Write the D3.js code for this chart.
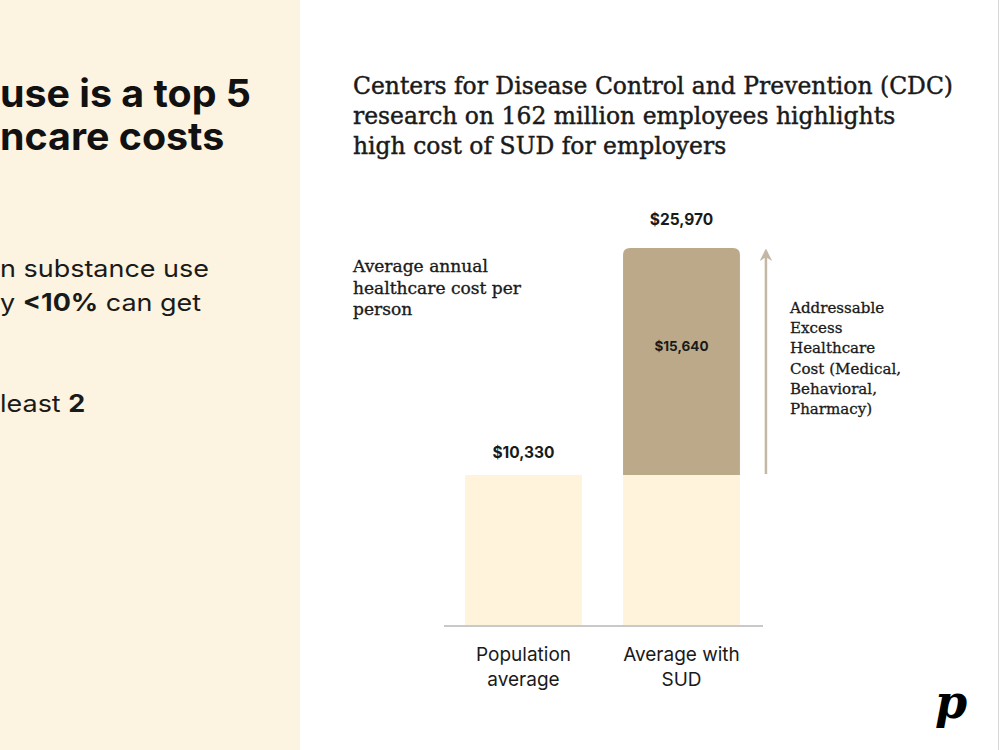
<!DOCTYPE html>
<html>
<head>
<meta charset="utf-8">
<script src="https://cdn.jsdelivr.net/npm/d3@7"></script>
<style>
  html, body { margin: 0; padding: 0; background: #fff; }
  svg { display: block; }
</style>
</head>
<body>
<div id="chart"></div>
<script>
const W = 1000
const H = 750

// chart data
const categories = ['Population average', 'Average with SUD']
const categoryLines = [['Population', 'average'], ['Average with', 'SUD']]
const baseCost = [10330, 10330]
const excessCost = [0, 15640]
const totalLabels = ['$10,330', '$25,970']
const excessLabel = '$15,640'

// texts
const titleLines = ['use is a top 5', 'ncare costs']
const subtitleLines = [
  'Centers for Disease Control and Prevention (CDC)',
  'research on 162 million employees highlights',
  'high cost of SUD for employers'
]
const yLabelLines = ['Average annual', 'healthcare cost per', 'person']
const noteLines = ['Addressable', 'Excess', 'Healthcare', 'Cost (Medical,', 'Behavioral,', 'Pharmacy)']

const SANS = 'Inter, "DejaVu Sans", sans-serif'
const SERIF = '"DejaVu Serif", serif'

const svg = d3.select('#chart')
  .append('svg')
  .attr('width', W)
  .attr('height', H)

// left cream panel
svg.append('rect')
  .attr('x', 0).attr('y', 0)
  .attr('width', 300).attr('height', H)
  .attr('fill', '#fdf3e1')

svg.append('line')
  .attr('x1', 998.5).attr('x2', 998.5)
  .attr('y1', 0).attr('y2', H)
  .attr('stroke', '#d8d8d8')

// squeeze a block of lines so the reference line gets the given width
function fitBlock (sel, refIndex, width) {
  const nodes = sel.nodes()
  const ratio = width / nodes[refIndex].getComputedTextLength()
  nodes.forEach((n) => {
    d3.select(n)
      .attr('textLength', n.getComputedTextLength() * ratio)
      .attr('lengthAdjust', 'spacingAndGlyphs')
  })
}

// serif text is drawn a little heavier, like a slab face
function heavy (sel, w) {
  sel.attr('stroke', '#1a1a1a').attr('stroke-width', w)
}

// left panel title
const title = svg.append('g')
  .selectAll('text')
  .data(titleLines)
  .join('text')
  .attr('x', 0)
  .attr('y', (d, i) => 107 + i * 43)
  .style('font-family', SANS)
  .style('font-weight', 700)
  .style('font-size', '38px')
  .attr('fill', '#111')
  .text((d) => d)
fitBlock(title, 0, 251)

// left panel body (parts: [text, bold])
const bodyLines = [
  [['n substance use', false]],
  [['y ', false], ['<10%', true], [' can get', false]],
  [['least ', false], ['2', true]]
]
const bodyY = [277, 311, 412]
const body = svg.append('g')
  .selectAll('text')
  .data(bodyLines)
  .join('text')
  .attr('x', 0)
  .attr('y', (d, i) => bodyY[i])
  .style('font-family', SANS)
  .style('font-size', '24px')
  .attr('fill', '#1a1a1a')
body.selectAll('tspan')
  .data((d) => d)
  .join('tspan')
  .style('font-weight', (d) => d[1] ? 700 : 400)
  .text((d) => d[0])
fitBlock(body, 0, 209)

// subtitle
const subtitle = svg.append('g')
  .selectAll('text')
  .data(subtitleLines)
  .join('text')
  .attr('x', 353)
  .attr('y', (d, i) => 94 + i * 30)
  .style('font-family', SERIF)
  .style('font-size', '24px')
  .attr('fill', '#1a1a1a')
  .text((d) => d)
fitBlock(subtitle, 0, 600)
heavy(subtitle, 0.45)

// y label
const yLabel = svg.append('g')
  .selectAll('text')
  .data(yLabelLines)
  .join('text')
  .attr('x', 353)
  .attr('y', (d, i) => 272 + i * 21.5)
  .style('font-family', SERIF)
  .style('font-size', '17px')
  .attr('fill', '#1a1a1a')
  .text((d) => d)
fitBlock(yLabel, 1, 168)
heavy(yLabel, 0.35)

// scales
const x = d3.scaleBand()
  .domain(categories)
  .range([445, 760])
  .paddingInner(0.26)
  .paddingOuter(0.127)

const y = d3.scaleLinear()
  .domain([0, d3.max(baseCost.map((b, i) => b + excessCost[i]))])
  .range([625, 248])

const table = categories.map((c, i) => ({ category: c, base: baseCost[i], excess: excessCost[i] }))
const stacked = d3.stack().keys(['base', 'excess'])(table)
const colors = { base: '#fff3dc', excess: '#bba98a' }

const chart = svg.append('g')

// base segment
chart.append('g')
  .selectAll('rect')
  .data(stacked[0])
  .join('rect')
  .attr('x', (d) => x(d.data.category))
  .attr('width', x.bandwidth())
  .attr('y', (d) => y(d[1]))
  .attr('height', (d) => y(d[0]) - y(d[1]))
  .attr('fill', colors.base)

// excess segment with rounded top corners
const r = 7
chart.append('g')
  .selectAll('path')
  .data(stacked[1].filter((d) => d[1] > d[0]))
  .join('path')
  .attr('d', (d) => {
    const x0 = x(d.data.category)
    const x1 = x0 + x.bandwidth()
    const yt = y(d[1])
    const yb = y(d[0])
    return `M${x0},${yb}V${yt + r}Q${x0},${yt} ${x0 + r},${yt}H${x1 - r}Q${x1},${yt} ${x1},${yt + r}V${yb}Z`
  })
  .attr('fill', colors.excess)

// baseline
chart.append('line')
  .attr('x1', 444).attr('x2', 763)
  .attr('y1', y(0) + 1).attr('y2', y(0) + 1)
  .attr('stroke', '#c9c9c9')
  .attr('stroke-width', 2)

// total labels
chart.append('g')
  .selectAll('text')
  .data(table)
  .join('text')
  .attr('x', (d) => x(d.category) + x.bandwidth() / 2)
  .attr('y', (d) => y(d.base + d.excess) - (d.excess > 0 ? 23 : 17))
  .attr('text-anchor', 'middle')
  .style('font-family', SANS)
  .style('font-weight', 700)
  .style('font-size', '15.5px')
  .attr('fill', '#1a1a1a')
  .text((d, i) => totalLabels[i])

// excess label, a bit above the middle of the segment
const sud = table[1]
chart.append('text')
  .attr('x', x(sud.category) + x.bandwidth() / 2)
  .attr('y', y(sud.base + sud.excess * 0.57) + 5)
  .attr('text-anchor', 'middle')
  .style('font-family', SANS)
  .style('font-weight', 700)
  .style('font-size', '13.5px')
  .attr('fill', '#1a1a1a')
  .text(excessLabel)

// category labels
chart.append('g')
  .selectAll('text')
  .data(categories)
  .join('text')
  .attr('x', (d) => x(d) + x.bandwidth() / 2)
  .attr('y', 661)
  .attr('text-anchor', 'middle')
  .style('font-family', SANS)
  .style('font-size', '19px')
  .attr('fill', '#1a1a1a')
  .selectAll('tspan')
  .data((d, i) => categoryLines[i])
  .join('tspan')
  .attr('x', function () { return this.parentNode.getAttribute('x') })
  .attr('dy', (d, i) => i === 0 ? 0 : 25)
  .text((d) => d)

// arrow over the excess segment
svg.append('defs').append('marker')
  .attr('id', 'head')
  .attr('viewBox', '0 0 10 10')
  .attr('refX', 8).attr('refY', 5)
  .attr('markerWidth', 5).attr('markerHeight', 7)
  .attr('orient', 'auto')
  .append('path')
  .attr('d', 'M0,0L10,5L0,10L3,5Z')
  .attr('fill', '#c3b7a5')

const arrowX = x(sud.category) + x.bandwidth() + 26
chart.append('line')
  .attr('x1', arrowX).attr('x2', arrowX)
  .attr('y1', y(sud.base) - 1)
  .attr('y2', y(sud.base + sud.excess) + 3)
  .attr('stroke', '#c3b7a5')
  .attr('stroke-width', 2.5)
  .attr('marker-end', 'url(#head)')

// note next to the arrow
const note = svg.append('g')
  .selectAll('text')
  .data(noteLines)
  .join('text')
  .attr('x', 790)
  .attr('y', (d, i) => 313 + i * 20.2)
  .style('font-family', SERIF)
  .style('font-size', '15.5px')
  .attr('fill', '#1a1a1a')
  .text((d) => d)
fitBlock(note, 3, 111)
heavy(note, 0.3)

// logo
svg.append('text')
  .attr('x', 951)
  .attr('y', 718)
  .attr('text-anchor', 'middle')
  .style('font-family', SERIF)
  .style('font-weight', 700)
  .style('font-style', 'italic')
  .style('font-size', '46px')
  .attr('fill', '#000')
  .text('p')
</script>
</body>
</html>
